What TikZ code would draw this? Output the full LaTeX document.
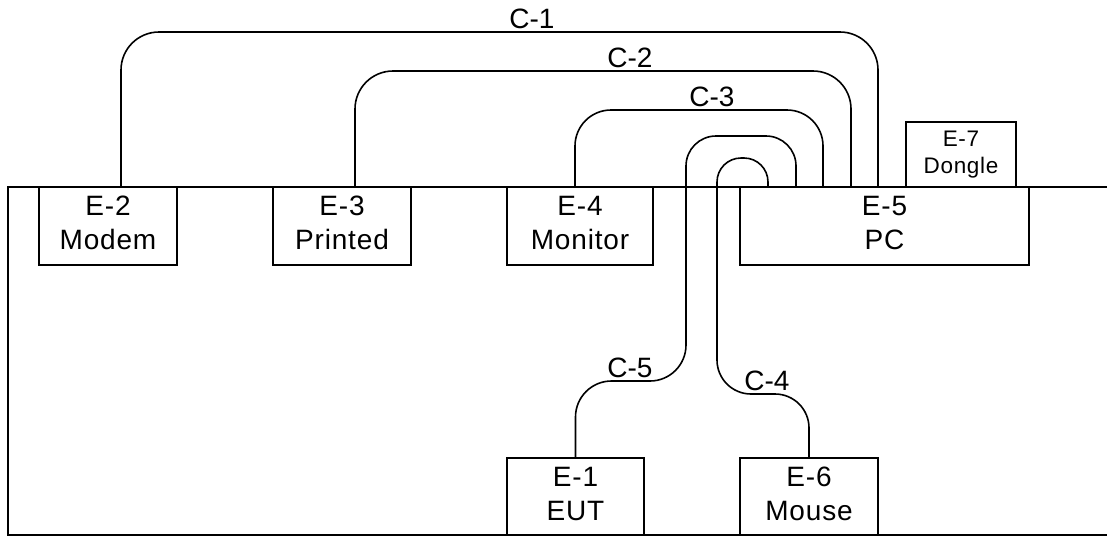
\documentclass[tikz,border=0pt]{standalone}
\usepackage{fontspec}
\setmainfont{Liberation Sans}
\newfontfamily\boxfont[LetterSpace=3]{Liberation Sans}
\begin{document}
\begin{tikzpicture}[x=1pt,y=-1pt,
  box/.style={draw,line width=1.6pt,inner sep=0pt,outer sep=0pt,align=center,font=\boxfont\fontsize{28}{34}\selectfont},
  smallbox/.style={box,font=\boxfont\fontsize{22.5}{27}\selectfont},
  cable/.style={draw,line width=1.6pt},
  clabel/.style={anchor=base,inner sep=0pt,font=\fontsize{28}{34}\selectfont}]
\useasboundingbox (0,0) rectangle (1107,536);
% frame
\draw[line width=1.6pt] (1107,187) -- (8,187) -- (8,535) -- (1107,535);
% boxes
\node[box,minimum width=138,minimum height=78] (E2) at (108,226) {E-2\\Modem\vphantom{g}};
\node[box,minimum width=138,minimum height=78] (E3) at (342,226) {E-3\\Printed\vphantom{g}};
\node[box,minimum width=146,minimum height=78] (E4) at (580,226) {E-4\\Monitor\vphantom{g}};
\node[box,minimum width=289,minimum height=78] (E5) at (884.5,226) {E-5\\PC\vphantom{g}};
\node[smallbox,minimum width=110,minimum height=65] (E7) at (961,154.5) {E-7\\Dongle};
\node[box,minimum width=137,minimum height=77] (E1) at (575.5,496.5) {E-1\\EUT\vphantom{g}};
\node[box,minimum width=138,minimum height=77] (E6) at (809,496.5) {E-6\\Mouse\vphantom{g}};
% helper levels
\coordinate (T1) at (0,32);
\coordinate (T2) at (0,71);
\coordinate (T3) at (0,110);
\coordinate (c1b) at ([xshift=-6.5]E5.north);
\coordinate (c2b) at ([xshift=-33.5]E5.north);
\coordinate (c3b) at ([xshift=-61.5]E5.north);
\coordinate (c5a) at ([xshift=-88.5]E5.north);
\coordinate (c4a) at ([xshift=-116.5]E5.north);
% cables
\draw[cable,rounded corners=38] ([xshift=13]E2.north) |- (c1b |- T1) -- (c1b);
\draw[cable,rounded corners=38] ([xshift=13]E3.north) |- (c2b |- T2) -- (c2b);
\draw[cable,rounded corners=36] ([xshift=-5]E4.north) |- (c3b |- T3) -- (c3b);
\draw[cable,rounded corners=30] (c5a) -- (796,136) -- (686,136) -- (686,260)
  [rounded corners=36] -- (686,381) -- (E1.north |- 0,381) -- (E1.north);
\draw[cable,rounded corners=24] (c4a) -- (768,158) -- (717,158) -- (717,280)
  [rounded corners=34] -- (717,394) -- (E6.north |- 0,394) -- (E6.north);
% labels
\node[clabel] (L1) at (532,28) {C-1};
\node[clabel] (L2) at (630,67) {C-2};
\node[clabel] (L3) at (712,106) {C-3};
\node[clabel] (L5) at (630,377) {C-5};
\node[clabel] (L4) at (767,390) {C-4};
\end{tikzpicture}
\end{document}
